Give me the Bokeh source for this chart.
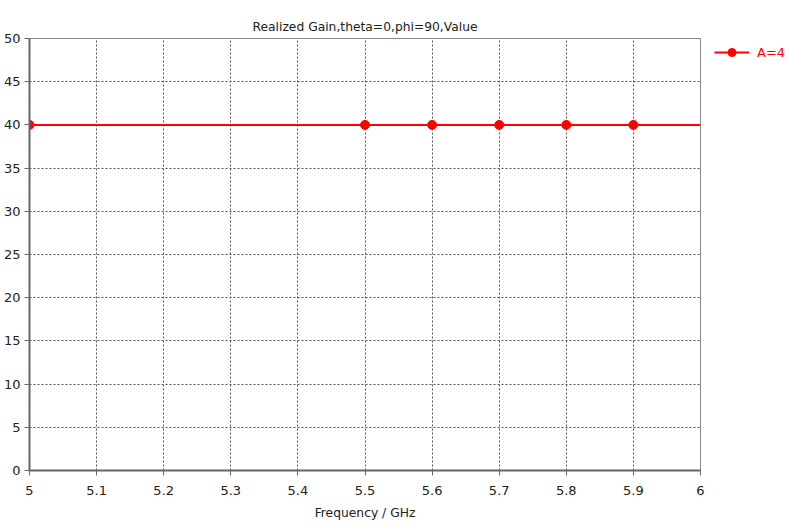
from bokeh.plotting import figure
from bokeh.models import Legend, LegendItem, FixedTicker, Range1d
from bokeh.embed import file_html
from bokeh.resources import INLINE

# data
freq_line = [5.0, 5.5, 5.6, 5.7, 5.8, 5.9, 6.0]
gain_line = [40, 40, 40, 40, 40, 40, 40]
freq_mark = [5.0, 5.5, 5.6, 5.7, 5.8, 5.9]
gain_mark = [40, 40, 40, 40, 40, 40]
x_ticks = [5.0, 5.1, 5.2, 5.3, 5.4, 5.5, 5.6, 5.7, 5.8, 5.9, 6.0]
x_tick_labels = ["5", "5.1", "5.2", "5.3", "5.4", "5.5", "5.6", "5.7", "5.8", "5.9", "6"]
y_ticks = [0, 5, 10, 15, 20, 25, 30, 35, 40, 45, 50]
series_name = "A=4"

FONT = "DejaVu Sans"

p = figure(frame_width=671, frame_height=432, output_backend="svg", toolbar_location=None,
           x_range=Range1d(5, 6), y_range=Range1d(0, 50),
           min_border_left=29, min_border_right=70, min_border_top=38, min_border_bottom=45)

p.title.text = "Realized Gain,theta=0,phi=90,Value"
p.title.align = "center"
p.title.offset = 29
p.title.text_font = FONT
p.title.text_font_size = "12.3px"
p.title.text_font_style = "normal"
p.title.text_color = "#222222"

p.outline_line_color = "#888888"
p.outline_line_width = 1

for ax in (p.xaxis[0], p.yaxis[0]):
    ax.axis_line_color = "#666666"
    ax.axis_line_width = 2
    ax.major_tick_line_color = "#666666"
    ax.major_tick_out = 5
    ax.major_tick_in = 0
    ax.minor_tick_line_color = None
    ax.major_label_text_font = FONT
    ax.major_label_text_font_size = "13px"
    ax.major_label_text_color = "#222222"

p.xaxis.ticker = FixedTicker(ticks=x_ticks)
p.xaxis.major_label_overrides = {t: l for t, l in zip(x_ticks, x_tick_labels)}
p.yaxis.ticker = FixedTicker(ticks=y_ticks)
p.xaxis.axis_label = "Frequency / GHz"
p.xaxis.axis_label_text_font = FONT
p.xaxis.axis_label_text_font_size = "12.3px"
p.xaxis.axis_label_text_font_style = "normal"
p.xaxis.axis_label_text_color = "#222222"
p.xaxis.axis_label_standoff = 8
p.xaxis.major_label_standoff = 10
p.yaxis.major_label_standoff = 4

for g in (p.xgrid[0], p.ygrid[0]):
    g.grid_line_color = "#555555"
    g.grid_line_dash = "2 2"
    g.grid_line_width = 1

ln = p.line(freq_line, gain_line, line_color="#ff0000", line_width=2)
mk = p.scatter(freq_mark, gain_mark, marker="circle", size=9,
               fill_color="#ff0000", line_color="#ff0000")

legend = Legend(items=[LegendItem(label=series_name, renderers=[ln, mk])],
                location=(14, 408), orientation="vertical",
                border_line_alpha=0, background_fill_alpha=0,
                glyph_width=35, glyph_height=20, padding=0, margin=0,
                label_text_color="#ff0000", label_text_font=FONT,
                label_text_font_size="13px", label_standoff=8)
p.add_layout(legend, "right")

open("out.html", "w").write(file_html(p, INLINE))
